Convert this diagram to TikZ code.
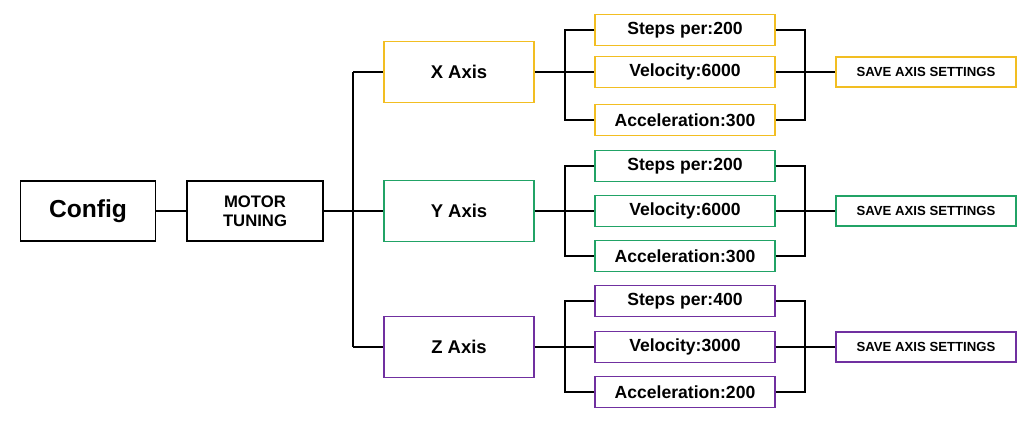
\documentclass[tikz,border=0pt]{standalone}
\usepackage{fontspec}
\setmainfont{Liberation Sans}
\usetikzlibrary{calc}
\definecolor{xcol}{HTML}{F2BE22}
\definecolor{ycol}{HTML}{21A366}
\definecolor{zcol}{HTML}{7030A0}
\begin{document}
\begin{tikzpicture}[x=0.02cm,y=-0.02cm,thick,font=\bfseries,
  box/.style={draw,thick,fill=white,align=center,inner sep=0pt},
  axisbox/.style={box,minimum width=3cm,minimum height=1.22cm,font=\bfseries\fontsize{10.5}{12}\selectfont},
  parbox/.style={box,minimum width=3.6cm,minimum height=0.62cm,font=\bfseries\fontsize{10}{11}\selectfont},
  savebox/.style={box,minimum width=3.6cm,minimum height=0.6cm,font=\bfseries\fontsize{7.5}{9}\selectfont}]
\useasboundingbox (0,0) rectangle (1024,429);

\node[box,minimum width=2.7cm,minimum height=1.2cm,font=\bfseries\fontsize{14}{16}\selectfont] (config) at (88,211) {Config};
\node[box,minimum width=2.72cm,minimum height=1.2cm,font=\bfseries\fontsize{9.5}{11}\selectfont] (motor) at (255,211) {MOTOR\\TUNING};
\draw (config) -- (motor);
\coordinate (busm) at (353,211);
\draw (motor) -- (busm);

\foreach \n/\c/\y/\a/\b/\s/\v/\acc in {x/xcol/72/30/120/200/6000/300,
    y/ycol/211/166/256/200/6000/300, z/zcol/347/301/392/400/3000/200}{
  \node[axisbox,draw=\c] (\n axis) at (459,\y) {\MakeUppercase{\n} Axis};
  \draw (353,\y) -- (\n axis);
  \node[parbox,draw=\c] (\n steps) at (685,\a) {Steps per:\s};
  \node[parbox,draw=\c] (\n vel) at (685,\y) {Velocity:\v};
  \node[parbox,draw=\c] (\n acc) at (685,\b) {Acceleration:\acc};
  \node[savebox,draw=\c] (\n save) at (926,\y) {SAVE AXIS SETTINGS};
  % bus to the parameters
  \draw (\n axis) -- (565,\y);
  \draw (\n steps.west) -| (565,\b) -- (\n acc.west);
  \draw (565,\y) -- (\n vel.west);
  % bus to the save button
  \draw (\n steps.east) -| (805,\b) -- (\n acc.east);
  \draw (\n vel.east) -- (\n save.west);
}
\draw (xaxis.west -| busm) -- (zaxis.west -| busm);
\end{tikzpicture}
\end{document}
